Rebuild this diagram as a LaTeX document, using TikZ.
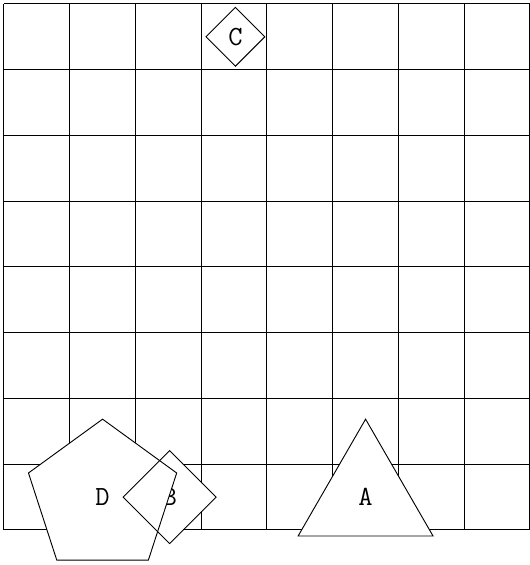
\documentclass[tikz,border=0pt]{standalone}
\usetikzlibrary{shapes.geometric}
\tikzset{
  gridline/.style={draw=black, line width=0.4pt},
  polynode/.style={
    regular polygon, regular polygon sides=#1, draw=black, fill=white,
    minimum size=2.37cm, inner sep=0pt, font=\large\ttfamily
  },
  polynode/.default=3,
  diamondnode/.style={
    diamond, draw=black, fill=white, aspect=1,
    minimum size=#1, inner sep=0pt, font=\large\ttfamily
  },
  diamondnode/.default=0.9cm,
}
\begin{document}
\begin{tikzpicture}
  \useasboundingbox (-0.06,-0.533) rectangle (7.99,8.06);

  % Grid
  \draw[gridline] (0,0) grid (8,8);

  % Small diamond on top
  \node[diamondnode] (C) at (3.52,7.5) {C};

  % Triangle
  \node[polynode=3] (A) at (5.5,0.5) {A};

  % Diamond under the pentagon (border comes later)
  \node[diamondnode=1.4cm, draw=none] (B) at (2.52,0.5) {B};

  % Pentagon
  \node[polynode=5] (D) at (1.5,0.5) {D};

  % Border of B, over the pentagon
  \draw (B.north) -- (B.east) -- (B.south) -- (B.west) -- cycle;
\end{tikzpicture}
\end{document}
